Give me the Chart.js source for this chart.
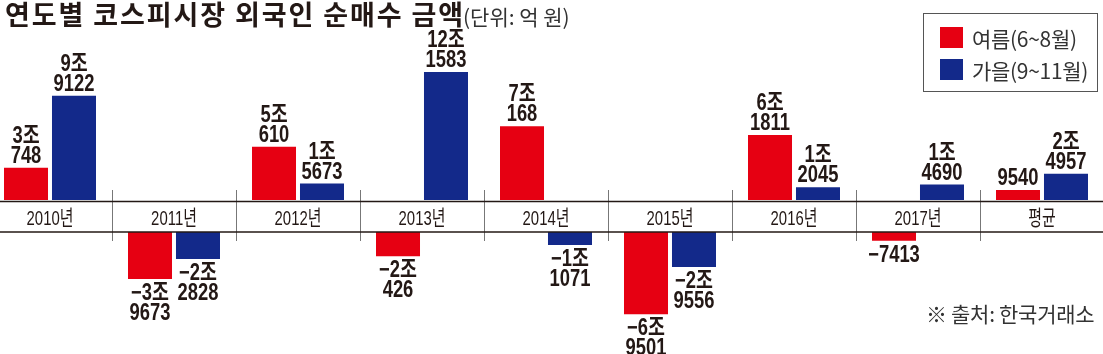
<!DOCTYPE html>
<html>
<head>
<meta charset="utf-8">
<script src="https://cdn.jsdelivr.net/npm/chart.js@4"></script>
<style>
  html, body { margin: 0; padding: 0; background: #fff; overflow: hidden; }
  body { width: 1103px; height: 354px; position: relative; font-family: 'Noto Sans CJK KR', sans-serif; color: #231815; }
  #title { position: absolute; left: 5px; top: -2px; white-space: nowrap; line-height: 32px; }
  #title b { font-size: 27px; font-weight: 700; letter-spacing: 1.9px; }
  #title span { font-size: 21px; color: #333; letter-spacing: 0px; margin-left: -2px; }
  #legend { position: absolute; left: 923px; top: 13px; width: 175px; height: 79px; border: 1px solid #555; box-sizing: border-box; }
  .row { position: absolute; left: 16px; height: 22px; font-size: 21px; line-height: 22px; color: #333; white-space: nowrap; letter-spacing: -0.3px; }
  .row i { display: inline-block; width: 23px; height: 21px; vertical-align: top; margin-right: 9px; }
  #source { position: absolute; left: 926px; top: 298px; font-size: 21px; color: #333; white-space: nowrap; letter-spacing: -0.3px; }
  #topWrap { position: absolute; left: -12px; top: 0; width: 1116px; height: 200px; }
  #botWrap { position: absolute; left: -12px; top: 200px; width: 1116px; height: 154px; }
</style>
</head>
<body>
<div id="topWrap"><canvas id="topChart"></canvas></div>
<div id="botWrap"><canvas id="botChart"></canvas></div>
<div id="title"><b>연도별 코스피시장 외국인 순매수 금액</b><span>(단위: 억 원)</span></div>
<div id="legend"></div>
<div id="source">※ 출처: 한국거래소</div>
<script>
// 데이터 (단위: 억 원)
const years = ['2010년', '2011년', '2012년', '2013년', '2014년', '2015년', '2016년', '2017년', '평균'];
const summer = [30748, -39673, 50610, -20426, 70168, -69501, 61811, -7413, 9540];
const autumn = [99122, -22828, 15673, 121583, -11071, -29556, 12045, 14690, 24957];
const seriesNames = ['여름(6~8월)', '가을(9~11월)'];

const RED = '#e60012';
const BLUE = '#13298a';
const INK = '#231815';

// 위/아래 차트 y 범위
const Y_MAX = 190000;
const Y_MIN = -103000;
const BAND = 32; // 연도 띠 높이

// 억 원 -> "3조 / 748" 형식
function fmt(v) {
    const a = Math.abs(v);
    const s = v < 0 ? '−' : '';
    if (a >= 10000) return [s + Math.floor(a / 10000) + '조', String(a % 10000)];
    return [s + a];
}

// 좁은 글씨 그리기 (가로 눌림)
function narrowText(ctx, t, x, y, sx) {
    ctx.save();
    ctx.translate(x, y);
    ctx.scale(sx, 1);
    ctx.fillText(t, 0, 0);
    ctx.restore();
}

// 막대 값 라벨 (양수는 위 차트, 음수는 아래 차트)
const valueLabels = {
    id: 'valueLabels',
    afterDatasetsDraw(chart) {
        const ctx = chart.ctx;
        const up = chart.options.plugins.valueLabels.up;
        ctx.save();
        ctx.font = "bold 23px 'Liberation Sans', 'Noto Sans CJK KR'";
        ctx.fillStyle = INK;
        ctx.textAlign = 'center';
        ctx.textBaseline = 'alphabetic';
        chart.data.datasets.forEach((ds, di) => {
            chart.getDatasetMeta(di).data.forEach((bar, i) => {
                const v = ds.data[i];
                if (up ? v <= 0 : v >= 0) return;
                const lines = fmt(v);
                lines.forEach((t, k) => {
                    const y = up ? bar.y - 5 - (lines.length - 1 - k) * 20 : bar.y + 21 + k * 20;
                    narrowText(ctx, t, bar.x, y, 0.8);
                });
            });
        });
        ctx.restore();
    }
};

// 가로 띠, 연도 구분선, 연도 라벨
const band = {
    id: 'band',
    afterDraw(chart) {
        const ctx = chart.ctx;
        const xs = chart.scales.x;
        const up = chart.options.plugins.valueLabels.up;
        const a = chart.chartArea;
        ctx.save();
        ctx.strokeStyle = '#777';
        ctx.lineWidth = 1;
        for (let i = 1; i < years.length; i++) {
            const x = Math.round((xs.getPixelForValue(i - 1) + xs.getPixelForValue(i)) / 2) + 0.5;
            ctx.beginPath();
            if (up) { ctx.moveTo(x, a.bottom - 10); ctx.lineTo(x, a.bottom); }
            else { ctx.moveTo(x, 0); ctx.lineTo(x, a.top + 9); }
            ctx.stroke();
        }
        if (!up) {
            ctx.strokeStyle = INK;
            ctx.lineWidth = 1.5;
            [1.5, a.top].forEach(y => {
                ctx.beginPath();
                ctx.moveTo(0, y);
                ctx.lineTo(chart.width, y);
                ctx.stroke();
            });
            ctx.fillStyle = INK;
            ctx.font = "21px 'Liberation Sans', 'Noto Sans CJK KR'";
            ctx.textAlign = 'center';
            ctx.textBaseline = 'alphabetic';
            years.forEach((y, i) => narrowText(ctx, y, xs.getPixelForValue(i), a.top - 7, 0.71));
        }
        ctx.restore();
    }
};

function makeChart(id, up) {
    return new Chart(document.getElementById(id), {
        type: 'bar',
        data: {
            labels: years,
            datasets: [
                { label: seriesNames[0], data: summer, backgroundColor: RED },
                { label: seriesNames[1], data: autumn, backgroundColor: BLUE }
            ]
        },
        options: {
            responsive: true,
            maintainAspectRatio: false,
            animation: false,
            events: [],
            layout: { padding: { top: up ? 0 : BAND, left: 0, right: 0, bottom: 0 } },
            categoryPercentage: 0.774,
            barPercentage: 0.917,
            scales: {
                x: { display: false },
                y: { display: false, min: up ? 0 : Y_MIN, max: up ? Y_MAX : 0 }
            },
            plugins: {
                legend: { display: false },
                tooltip: { enabled: false },
                valueLabels: { up: up }
            }
        },
        plugins: [valueLabels, band]
    });
}

makeChart('topChart', true);
makeChart('botChart', false);

// 범례
const legend = document.getElementById('legend');
[RED, BLUE].forEach((c, i) => {
    const row = document.createElement('div');
    row.className = 'row';
    row.style.top = (13 + i * 32) + 'px';
    row.innerHTML = '<i style="background:' + c + '"></i>' + seriesNames[i];
    legend.appendChild(row);
});
</script>
</body>
</html>
